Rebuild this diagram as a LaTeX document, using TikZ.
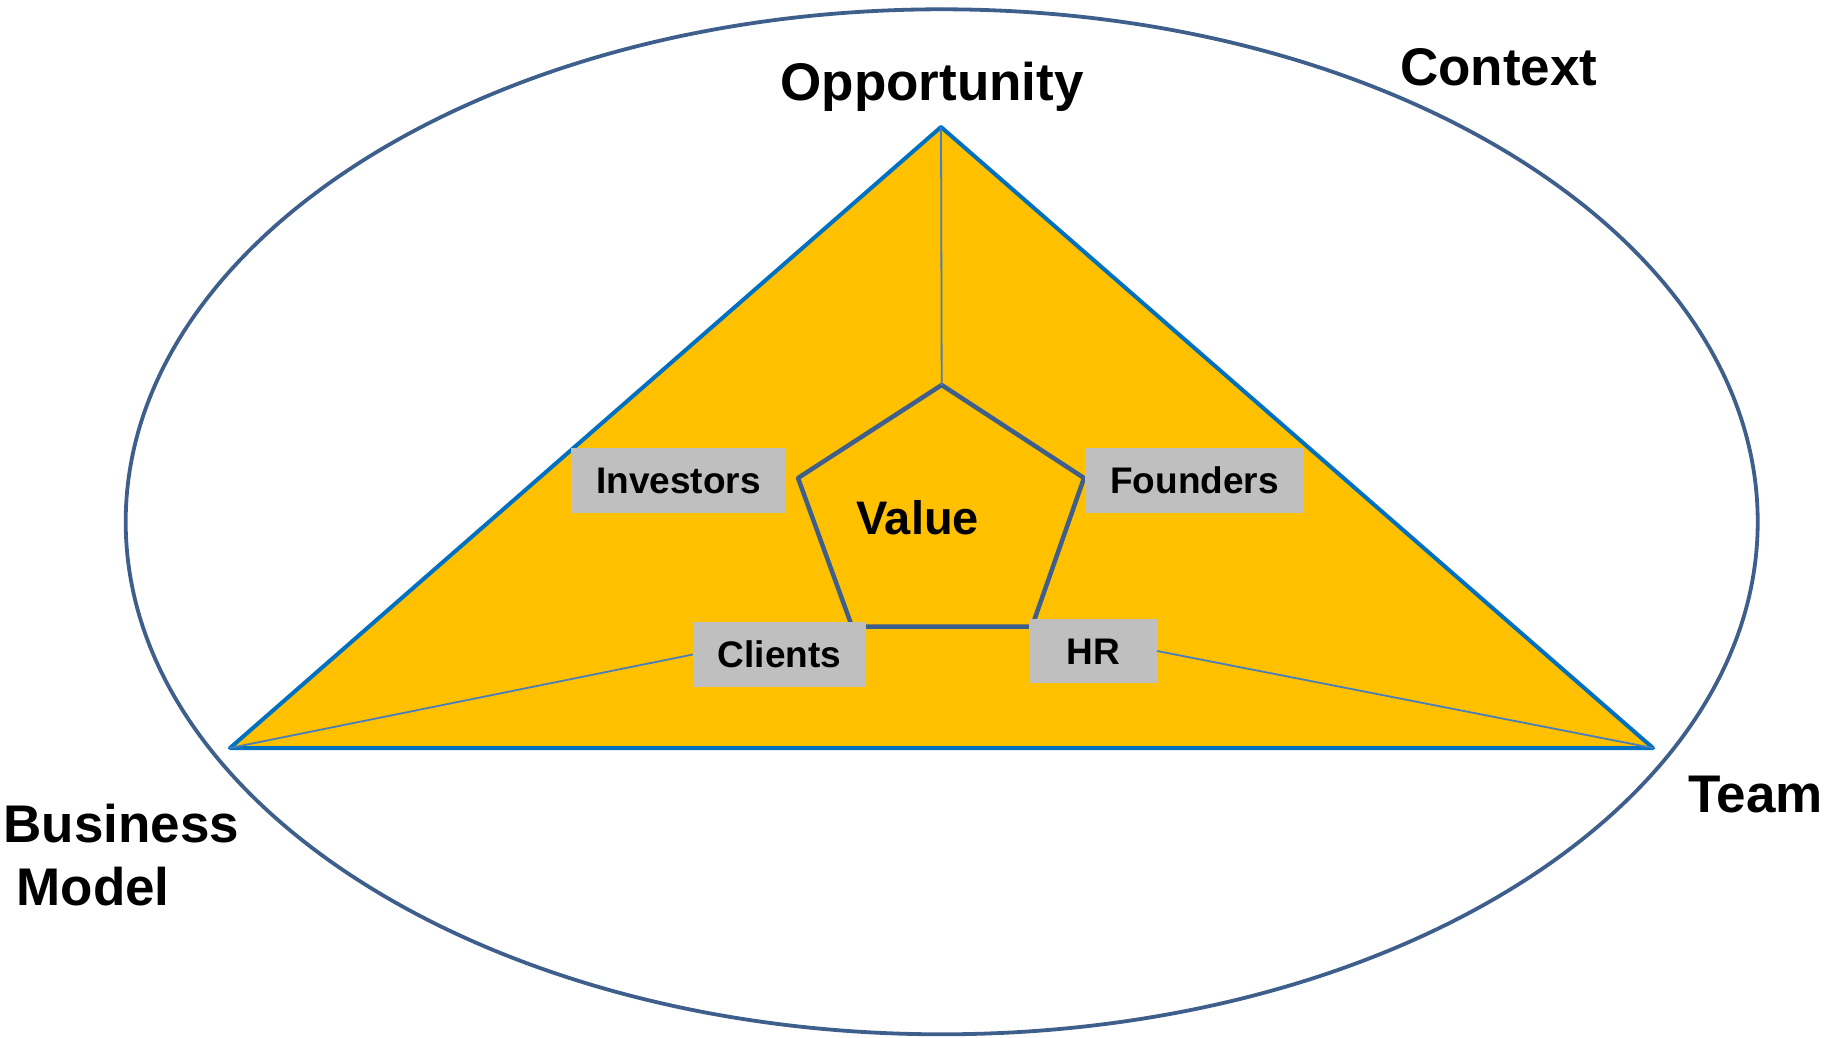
\documentclass[tikz,border=0pt]{standalone}
\usepackage{fontspec}
\setmainfont{Liberation Sans}
\definecolor{ringblue}{HTML}{3E5F8C}
\definecolor{edgeblue}{HTML}{0070C0}
\definecolor{thinblue}{HTML}{4A7EBB}
\definecolor{gold}{HTML}{FFC000}
\definecolor{boxgray}{HTML}{BFBFBF}
\tikzset{
  bigtext/.style={inner sep=0pt, font=\fontsize{53}{60}\selectfont\bfseries},
  graybox/.style={fill=boxgray, inner sep=0pt, text height=26.5pt, text depth=0pt,
    font=\fontsize{37}{42}\selectfont\bfseries}
}
\begin{document}
\begin{tikzpicture}[x=1pt, y=-1pt]
  \useasboundingbox (0,0) rectangle (1841,1038);

  % Context ring
  \coordinate (ctr) at (941.7,521.8);
  \draw[ringblue, line width=3.8pt] (ctr) ellipse [x radius=816, y radius=512.5];

  % Corners of the triangle
  \coordinate (opp) at (941,127);
  \coordinate (biz) at (230,748);
  \coordinate (team) at (1653,748);

  % Corners of the pentagon
  \coordinate (p1) at (941.7,385);
  \coordinate (p2) at (1084,478);
  \coordinate (p3) at (1032,626.5);
  \coordinate (p4) at (852,626.5);
  \coordinate (p5) at (798,478);

  % Triangle
  \draw[edgeblue, fill=gold, line width=4pt, line join=round] (opp) -- (team) -- (biz) -- cycle;

  % Pentagon
  \draw[ringblue, line width=4.5pt, line join=round] (p1) -- (p2) -- (p3) -- (p4) -- (p5) -- cycle;

  % Boxes
  \node[graybox, minimum width=215pt, minimum height=65pt] (inv) at (678.5,480.5) {Investors};
  \node[graybox, minimum width=219pt, minimum height=65pt] (fnd) at (1194.5,480.5) {Founders};
  \node[graybox, minimum width=173pt, minimum height=65pt] (cli) at (779.5,654.5) {Clients};
  \node[graybox, minimum width=128pt, minimum height=64pt] (hr) at (1093,651) {HR};

  % Thin lines to the corners
  \draw[thinblue, line width=1.8pt] (opp) -- (p1);
  \draw[thinblue, line width=1.8pt] (biz) -- (cli.west);
  \draw[thinblue, line width=1.8pt] (hr.east) -- (team);

  % Labels
  \node[bigtext, anchor=base] (lopp) at (932,101) {Opportunity};
  \node[bigtext, anchor=base] (lctx) at (1498.8,85.7) {Context};
  \node[bigtext, anchor=base west] (lteam) at (1688,812.5) {Team};
  \node[bigtext, anchor=base west] (lbiz) at (3.5,842) {Business};
  \node[bigtext, anchor=base west] (lmod) at (16.4,905) {Model};
  \node[bigtext, anchor=base, font=\fontsize{47}{54}\selectfont\bfseries] (lval) at (917.6,534) {Value};
\end{tikzpicture}
\end{document}
